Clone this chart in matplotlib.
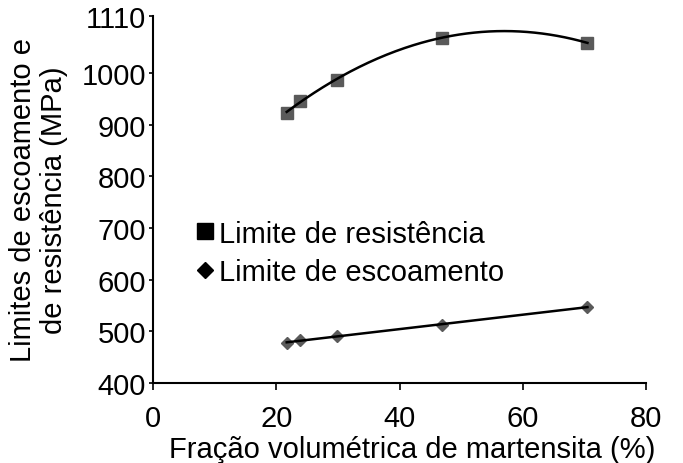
import numpy as np
import matplotlib
matplotlib.use("Agg")
import matplotlib.pyplot as plt
from matplotlib.lines import Line2D

plt.rcParams['font.family'] = ['Liberation Sans', 'DejaVu Sans']

# Martensite volume fraction (%)
fracao = [21.7, 23.8, 29.8, 46.9, 70.5]
# Ultimate tensile strength (MPa)
lim_resistencia = [922, 946, 987, 1068, 1058]
# Yield strength (MPa)
lim_escoamento = [477, 483, 491, 513, 547]

x_ticks = [0, 20, 40, 60, 80]
y_ticks = [400, 500, 600, 700, 800, 900, 1000, 1110]

fig = plt.figure(figsize=(6.83, 4.64), dpi=100)
ax = fig.add_axes([153 / 683, 1 - 384 / 464, (646 - 153) / 683, (384 - 17) / 464])

fs = 21
marker_col = '#5a5a5a'

x = np.array(fracao)
xs = np.linspace(x.min(), x.max(), 200)

# Trend lines: quadratic for UTS, linear for yield
c2 = np.polyfit(x, lim_resistencia, 2)
c1 = np.polyfit(x, lim_escoamento, 1)
ax.plot(xs, np.polyval(c2, xs), color='black', lw=1.8, zorder=3)
ax.plot(xs, np.polyval(c1, xs), color='black', lw=1.8, zorder=3)

ax.plot(fracao, lim_resistencia, ls='none', marker='s', ms=8.5,
        color=marker_col, mec=marker_col, zorder=2)
ax.plot(fracao, lim_escoamento, ls='none', marker='D', ms=6.5,
        color=marker_col, mec=marker_col, zorder=2)

ax.set_xlim(0, 80)
ax.set_ylim(400, 1110)
ax.set_xticks(x_ticks)
ax.set_yticks(y_ticks)
ax.tick_params(axis='x', labelsize=fs, direction='out', length=5, width=1.2, pad=10)
ax.tick_params(axis='y', labelsize=fs, direction='out', length=3, width=1.2, pad=2)
for s in ['top', 'right']:
    ax.spines[s].set_visible(False)
for s in ['left', 'bottom']:
    ax.spines[s].set_linewidth(1.5)

ax.set_xlabel('Fração volumétrica de martensita (%)', fontsize=fs)
ax.xaxis.set_label_coords(0.525, -0.142)
ax.set_ylabel('Limites de escoamento e\nde resistência (MPa)', fontsize=fs,
              labelpad=10, linespacing=1.1)

handles = [
    Line2D([], [], ls='none', marker='s', ms=11, color='black'),
    Line2D([], [], ls='none', marker='D', ms=8, color='black'),
]
ax.legend(handles, ['Limite de resistência', 'Limite de escoamento'],
          loc='upper left', bbox_to_anchor=(0.065, 0.477), frameon=False,
          fontsize=fs, handlelength=0.6, handletextpad=0.15,
          labelspacing=0.36, borderaxespad=0)

fig.savefig('out.png', dpi=100)
